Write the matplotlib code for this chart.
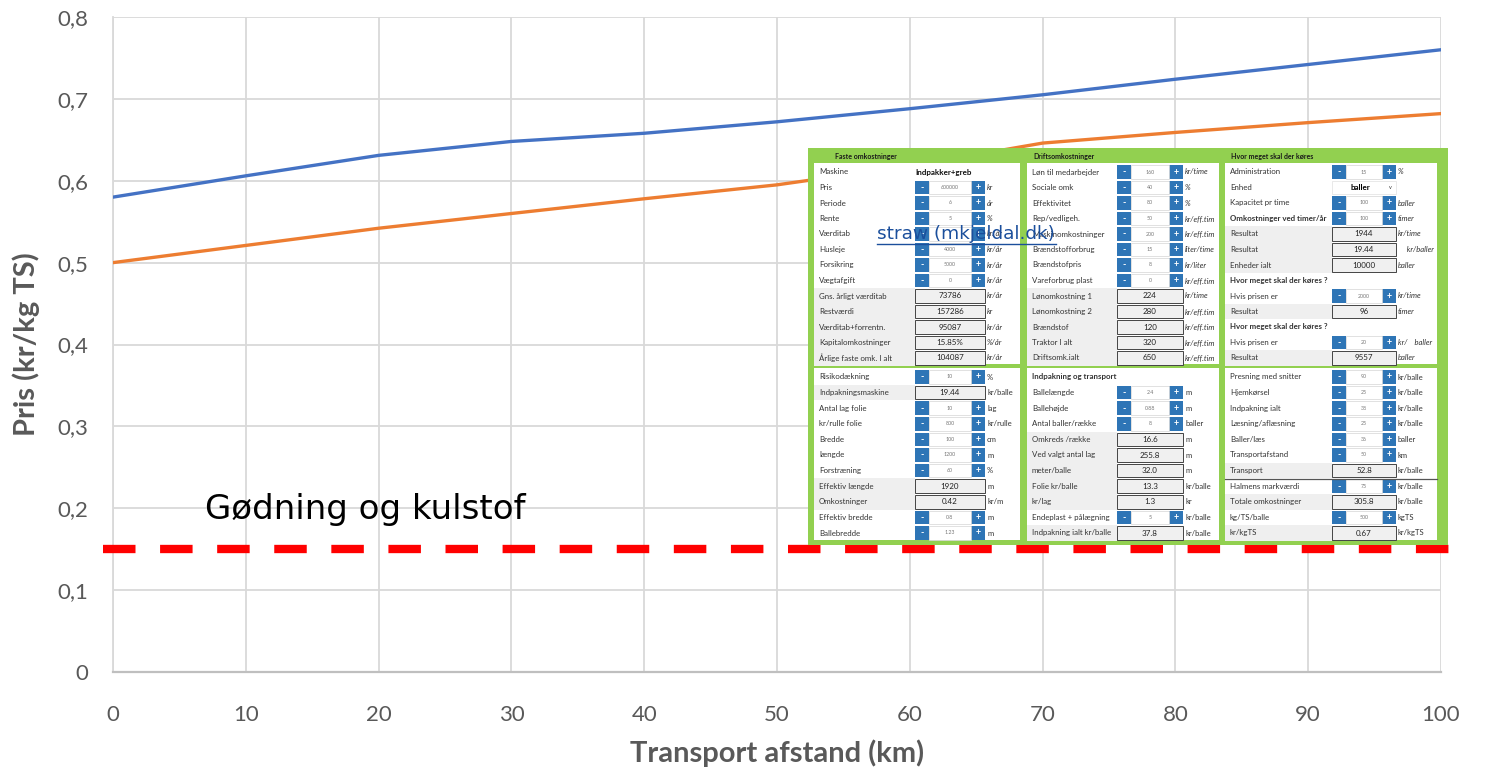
import matplotlib.pyplot as plt
from matplotlib.patches import Rectangle
from matplotlib.lines import Line2D

plt.rcParams['font.family'] = ['Lato', 'DejaVu Sans']

# prisudvikling med transportafstand
afstand = [0, 10, 20, 30, 40, 50, 60, 70, 80, 90, 100]
pris_blaa = [0.580, 0.606, 0.631, 0.648, 0.658, 0.672, 0.688, 0.705, 0.724, 0.742, 0.760]
pris_orange = [0.500, 0.521, 0.542, 0.560, 0.578, 0.595, 0.618, 0.646, 0.659, 0.671, 0.682]
goedning_kulstof = 0.15

x_ticks = [0, 10, 20, 30, 40, 50, 60, 70, 80, 90, 100]
y_ticks = [0, 0.1, 0.2, 0.3, 0.4, 0.5, 0.6, 0.7, 0.8]

# regneark: (tekst, type, værdi, enhed)
# s = op/ned-knap, c = beregnet felt, t = fed tekst, d = rulleliste, h = overskrift, S = fed med knap
faste_omk = [
    ('Maskine', 't', 'Indpakker+greb', ''),
    ('Pris', 's', '600000', 'kr'),
    ('Periode', 's', '6', 'år'),
    ('Rente', 's', '5', '%'),
    ('Værditab', 's', '', 'kr/år'),
    ('Husleje', 's', '4000', 'kr/år'),
    ('Forsikring', 's', '5000', 'kr/år'),
    ('Vægtafgift', 's', '0', 'kr/år'),
    ('Gns. årligt værditab', 'c', '73786', 'kr/år'),
    ('Restværdi', 'c', '157286', 'kr'),
    ('Værditab+forrentn.', 'c', '95087', 'kr/år'),
    ('Kapitalomkostninger', 'c', '15.85%', '%/år'),
    ('Årlige faste omk. I alt', 'c', '104087', 'kr/år'),
]
folie = [
    ('Risikodækning', 's', '10', '%'),
    ('Indpakningsmaskine', 'c', '19.44', 'kr/balle'),
    ('Antal lag folie', 's', '10', 'lag'),
    ('kr/rulle folie', 's', '800', 'kr/rulle'),
    ('Bredde', 's', '100', 'cm'),
    ('længde', 's', '1200', 'm'),
    ('Forstræning', 's', '60', '%'),
    ('Effektiv længde', 'c', '1920', 'm'),
    ('Omkostninger', 'c', '0.42', 'kr/m'),
    ('Effektiv bredde', 's', '0.8', 'm'),
    ('Ballebredde', 's', '1.23', 'm'),
]
drift_omk = [
    ('Løn til medarbejder', 's', '160', 'kr/time'),
    ('Sociale omk', 's', '40', '%'),
    ('Effektivitet', 's', '80', '%'),
    ('Rep/vedligeh.', 's', '50', 'kr/eff.tim'),
    ('Maskinomkostninger', 's', '200', 'kr/eff.tim'),
    ('Brændstofforbrug', 's', '15', 'liter/time'),
    ('Brændstofpris', 's', '8', 'kr/liter'),
    ('Vareforbrug plast', 's', '0', 'kr/eff.tim'),
    ('Lønomkostning 1', 'c', '224', 'kr/time'),
    ('Lønomkostning 2', 'c', '280', 'kr/eff.tim'),
    ('Brændstof', 'c', '120', 'kr/eff.tim'),
    ('Traktor I alt', 'c', '320', 'kr/eff.tim'),
    ('Driftsomk.ialt', 'c', '650', 'kr/eff.tim'),
]
indpakning = [
    ('Indpakning og transport', 'h', '', ''),
    ('Ballelængde', 's', '2.4', 'm'),
    ('Ballehøjde', 's', '0.88', 'm'),
    ('Antal baller/række', 's', '8', 'baller'),
    ('Omkreds /række', 'c', '16.6', 'm'),
    ('Ved valgt antal lag', 'c', '255.8', 'm'),
    ('meter/balle', 'c', '32.0', 'm'),
    ('Folie kr/balle', 'c', '13.3', 'kr/balle'),
    ('kr/lag', 'c', '1.3', 'kr'),
    ('Endeplast + pålægning', 's', '5', 'kr/balle'),
    ('Indpakning ialt kr/balle', 'c', '37.8', 'kr/balle'),
]
koersel = [
    ('Administration', 's', '15', '%'),
    ('Enhed', 'd', 'baller', ''),
    ('Kapacitet pr time', 's', '100', 'baller'),
    ('Omkostninger ved timer/år', 'S', '100', 'timer'),
    ('Resultat', 'c', '1944', 'kr/time'),
    ('Resultat', 'c', '19.44', '     kr/baller'),
    ('Enheder ialt', 'c', '10000', 'baller'),
    ('Hvor meget skal der køres ?', 'h', '', ''),
    ('Hvis prisen er', 's', '2000', 'kr/time'),
    ('Resultat', 'c', '96', 'timer'),
    ('Hvor meget skal der køres ?', 'h', '', ''),
    ('Hvis prisen er', 's', '20', 'kr/    baller'),
    ('Resultat', 'c', '9557', 'baller'),
]
total = [
    ('Presning med snitter', 's', '90', 'kr/balle'),
    ('Hjemkørsel', 's', '25', 'kr/balle'),
    ('Indpakning ialt', 's', '38', 'kr/balle'),
    ('Læsning/aflæsning', 's', '25', 'kr/balle'),
    ('Baller/læs', 's', '36', 'baller'),
    ('Transportafstand', 's', '50', 'km'),
    ('Transport', 'c', '52.8', 'kr/balle'),
    ('Halmens markværdi', 's', '75', 'kr/balle'),
    ('Totale omkostninger', 'c', '305.8', 'kr/balle'),
    ('kg/TS/balle', 's', '500', 'kgTS'),
    ('kr/kgTS', 'c', '0.67', 'kr/kgTS'),
]
overskrifter = ['Faste omkostninger', 'Driftsomkostninger', 'Hvor meget skal der køres']

W, H = 1488, 772
fig = plt.figure(figsize=(W / 100, H / 100), dpi=100)
ax = fig.add_axes([113 / W, 100 / H, 1328 / W, 655 / H])

grid_c = '#d9d9d9'
tekst_c = '#595959'

ax.plot(afstand, pris_blaa, color='#4472c4', lw=2.4, solid_capstyle='round', zorder=3)
ax.plot(afstand, pris_orange, color='#ed7d31', lw=2.4, solid_capstyle='round', zorder=3)
ax.axhline(goedning_kulstof, xmin=-10 / 1328, xmax=1337 / 1328, color='#ff0000', lw=6,
           linestyle=(0, (3.9, 2.95)), clip_on=False, zorder=4)

ax.set_xlim(0, 100)
ax.set_ylim(0, 0.8)
ax.set_xticks(x_ticks)
ax.set_yticks(y_ticks)
ax.set_xticklabels([str(v) for v in x_ticks])
ax.set_yticklabels(['0' if v == 0 else f'{v:.1f}'.replace('.', ',') for v in y_ticks])
ax.tick_params(length=0, labelsize=16, labelcolor=tekst_c)
ax.tick_params(axis='x', pad=24)
ax.tick_params(axis='y', pad=18)
ax.grid(True, color=grid_c, lw=1.3)
ax.set_axisbelow(True)
for side in ['top', 'right']:
    ax.spines[side].set_visible(False)
ax.spines['left'].set_color(grid_c)
ax.spines['left'].set_linewidth(1.3)
ax.spines['bottom'].set_color('#bfbfbf')
ax.spines['bottom'].set_linewidth(1.6)

ax.set_xlabel('Transport afstand (km)', fontsize=21, fontweight='bold', color=tekst_c, labelpad=10)
ax.set_ylabel('Pris (kr/kg TS)', fontsize=21, fontweight='bold', color=tekst_c, labelpad=12)

ax.text(6.9, 0.198, 'Gødning og kulstof', fontsize=24.5, color='black',
        family=['DejaVu Sans'], va='center', ha='left')

# regneark indsat oven på grafen
tab = fig.add_axes([808 / W, (H - 545) / H, 640 / W, 397 / H])
tab.set_xlim(0, 640)
tab.set_ylim(397, 0)
tab.axis('off')

groen = '#92d050'
blaa_knap = '#2e75b6'
tab.add_patch(Rectangle((0, 0), 640, 397, fc=groen, ec='none'))

paneler_x = [(6, 212), (219, 411), (417, 629)]
kontrol_x = [(107, 177), (309, 375), (524, 588)]
top_y, bund_y = (15, 216), (220, 392)

for (px0, px1), navn in zip(paneler_x, overskrifter):
    tab.text(px0 + (21 if px0 == 6 else 6), 8, navn, fontsize=5, fontweight='bold', va='center', color='#1a1a1a')
    for y0, y1 in (top_y, bund_y):
        tab.add_patch(Rectangle((px0, y0), px1 - px0, y1 - y0, fc='white', ec='none'))


def tegn_panel(rows, p, y_start, pitch, kursiv):
    px0, px1 = paneler_x[p]
    kx0, kx1 = kontrol_x[p]
    h = 13.5
    for i, (lbl, kind, val, unit) in enumerate(rows):
        y = y_start + i * pitch
        if kind == 'c':
            tab.add_patch(Rectangle((px0, y - pitch / 2), kx0 - px0, pitch, fc='#efefef', ec='none'))
            tab.add_patch(Rectangle((kx0, y - h / 2), kx1 - kx0, h, fc='#f0f0f0', ec='#444444', lw=0.7))
            tab.text((kx0 + kx1) / 2, y, val, fontsize=5.8, ha='center', va='center', color='#222222')
        elif kind in ('s', 'S'):
            bw = 14
            tab.add_patch(Rectangle((kx0, y - h / 2), bw, h, fc=blaa_knap, ec='none'))
            tab.add_patch(Rectangle((kx1 - bw, y - h / 2), bw, h, fc=blaa_knap, ec='none'))
            tab.add_patch(Rectangle((kx0 + bw, y - h / 2), kx1 - kx0 - 2 * bw, h, fc='white', ec='#d5d5d5', lw=0.5))
            tab.text(kx0 + bw / 2, y, '-', fontsize=6.5, fontweight='bold', color='white', ha='center', va='center')
            tab.text(kx1 - bw / 2, y, '+', fontsize=6.5, fontweight='bold', color='white', ha='center', va='center')
            tab.text((kx0 + kx1) / 2, y, val, fontsize=3.8, ha='center', va='center', color='#777777')
        elif kind == 't':
            tab.text(kx0, y, val, fontsize=5.8, fontweight='bold', va='center', color='#111111')
        elif kind == 'd':
            tab.add_patch(Rectangle((kx0, y - h / 2), kx1 - kx0, h, fc='white', ec='#e0e0e0', lw=0.5))
            tab.text((kx0 + kx1) / 2 - 4, y, val, fontsize=5.8, fontweight='bold', ha='center', va='center')
            tab.text(kx1 - 6, y, 'v', fontsize=4, ha='center', va='center', color='#333333')
        bold = 'bold' if kind in ('h', 'S') else 'normal'
        tab.text(px0 + 5, y, lbl, fontsize=5.7, fontweight=bold, va='center', color='#333333')
        if unit:
            tab.text(kx1 + 2, y, unit, fontsize=5.5, va='center', color='#333333',
                     style='italic' if kursiv else 'normal')


tegn_panel(faste_omk, 0, 24, 15.5, True)
tegn_panel(drift_omk, 1, 24, 15.5, True)
tegn_panel(koersel, 2, 24, 15.5, True)
tegn_panel(folie, 0, 229, 15.6, False)
tegn_panel(indpakning, 1, 229, 15.6, False)
tegn_panel(total, 2, 229, 15.6, False)
tab.plot([paneler_x[2][0], paneler_x[2][1]], [331, 331], color='#555555', lw=0.9)

# link-tekst
fig.text(877 / W, 1 - 234 / H, 'straw (mkjeldal.dk)', fontsize=13.3, color='#1b4f9c',
         family=['DejaVu Sans'], va='center', ha='left')
fig.add_artist(Line2D([877 / W, 1056 / W], [1 - 244 / H, 1 - 244 / H], transform=fig.transFigure,
                      color='#1b4f9c', lw=1))

fig.savefig('out.png', dpi=100)
